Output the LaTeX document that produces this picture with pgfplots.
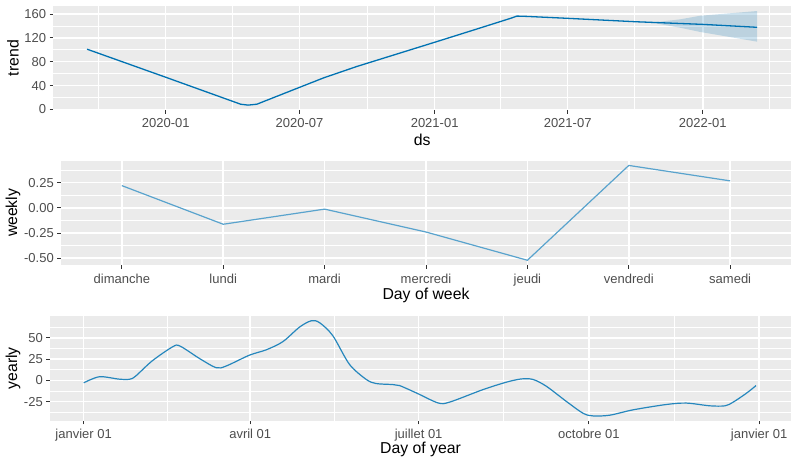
\documentclass[border=0pt]{standalone}
\usepackage{fontspec}
\setmainfont{Liberation Sans}
\usepackage{pgfplots}
\pgfplotsset{compat=1.18}
\definecolor{pbg}{HTML}{EBEBEB}
\definecolor{prophet}{HTML}{0072B2}
\definecolor{tickc}{HTML}{333333}
\definecolor{labc}{HTML}{4D4D4D}
\pgfplotsset{gg/.style={
  scale only axis,
  anchor=south west,
  axis background/.style={fill=pbg},
  axis x line*=bottom, axis y line*=left,
  axis line style={draw=none,-},
  grid=both,
  major grid style={white, line width=1.5pt},
  minor grid style={white, line width=0.75pt},
  minor tick length=0pt,
  major tick length=3.7pt,
  tick align=outside,
  tick style={tickc, line width=0.9pt},
  ticklabel style={font=\fontsize{13}{13}\selectfont, text=labc},
  xticklabel shift=1.5pt,
  label style={font=\fontsize{15.8}{16}\selectfont, text=black, anchor=center},
  clip=true,
}}
\begin{document}
\begin{tikzpicture}
\useasboundingbox (0,0) rectangle (792pt,459pt);
% ---------- trend ----------
\begin{axis}[gg,
  at={(53.3pt,349pt)}, width=737.7pt, height=104pt,
  xmin=-153, xmax=851, ymin=-0.9, ymax=173.4,
  xtick={0,182,366,547,731},
  xticklabels={2020-01,2020-07,2021-01,2021-07,2022-01},
  minor xtick={-92,91,274,456,638,821},
  ytick={0,40,80,120,160}, yticklabels={0,40,80,120,160},
  minor ytick={20,60,100,140},
  xlabel={ds}, ylabel={trend},
  xlabel style={at={(axis description cs:0.5,-0.29)}},
  ylabel style={at={(axis description cs:-0.0546,0.5)}},
]
\addplot[fill=prophet, fill opacity=0.2, draw=none] coordinates {
 (640,147.5) (668,146.5) (700,151) (727,157) (805,165)
 (805,113.6) (727,130) (700,137) (668,144) (640,147.5)};
\addplot[prophet, line width=1.3pt] coordinates {
 (-107,101) (0,54) (102,8.8) (112,7.3) (124,8.8) (182,37) (215,53) (260,72)
 (366,112.6) (420,133.5) (470,153) (478,156.5) (491,156) (546,152.8)
 (640,147) (731,142.6) (805,137.7)};
\end{axis}
% ---------- weekly ----------
\begin{axis}[gg,
  at={(61pt,194pt)}, width=730pt, height=104.3pt,
  xmin=-0.6, xmax=6.6, ymin=-0.567, ymax=0.467,
  xtick={0,1,2,3,4,5,6},
  xticklabels={dimanche,lundi,mardi,mercredi,jeudi,vendredi,samedi},
  ytick={-0.5,-0.25,0,0.25}, yticklabels={-0.50,-0.25,0.00,0.25},
  minor ytick={-0.375,-0.125,0.125,0.375},
  xlabel={Day of week}, ylabel={weekly},
  xlabel style={at={(axis description cs:0.5,-0.29)}},
  ylabel style={at={(axis description cs:-0.0658,0.5)}},
]
\addplot[prophet!65, line width=1.2pt] coordinates {
 (0,0.22) (1,-0.163) (2,-0.013) (3,-0.24) (4,-0.52) (5,0.42) (6,0.267)};
\end{axis}
% ---------- yearly ----------
\begin{axis}[gg,
  at={(50pt,38.3pt)}, width=741pt, height=104.7pt,
  xmin=-18.2, xmax=382.2, ymin=-47.3, ymax=75.8,
  xtick={0,90,181,273,365},
  xticklabels={janvier 01,avril 01,juillet 01,octobre 01,janvier 01},
  minor xtick={45,135.5,227,319},
  ytick={-25,0,25,50}, yticklabels={-25,0,25,50},
  minor ytick={-37.5,-12.5,12.5,37.5,62.5},
  xlabel={Day of year}, ylabel={yearly},
  xlabel style={at={(axis description cs:0.5,-0.275)}},
  ylabel style={at={(axis description cs:-0.0499,0.5)}},
]
\addplot[prophet!85, line width=1.2pt, smooth, tension=0.5] coordinates {
 (0,-2.8) (8.5,4.4) (19,1.6) (24.7,1.4) (28,5) (37,23) (48,39.5) (52,40.5)
 (62.6,25.8) (71.6,15) (77,17) (89.6,29.8) (98.6,36) (107.6,45.6) (116.6,62.7)
 (123,70.2) (127.5,67.9) (134.6,52.7) (143.6,19) (152.7,1.2) (158,-3.6)
 (167,-4.8) (170.7,-6) (179.8,-14.7) (191.5,-26.4) (197.8,-25.4) (215.8,-10.7)
 (228.4,-2) (236.5,1.8) (242.8,1.2) (250,-6.8) (260.8,-24.6) (269.8,-38.5)
 (275.3,-41.7) (284.3,-40.8) (296.9,-34.5) (315,-28.2) (325.8,-26.6)
 (338.4,-29.8) (346.5,-29.8) (351,-25.4) (358.3,-14.7) (363.3,-6)};
\end{axis}
\end{tikzpicture}
\end{document}
